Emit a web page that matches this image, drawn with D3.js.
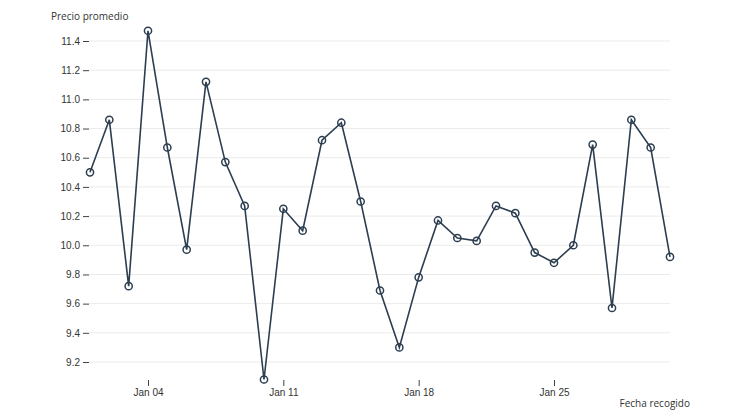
<!DOCTYPE html>
<html>
<head>
<meta charset="utf-8">
<script src="https://cdn.jsdelivr.net/npm/d3@7"></script>
<style>
  body { margin: 0; background: #fff; }
  svg { font-family: "Open Sans", "Noto Sans", sans-serif; }
</style>
</head>
<body>
<div id="app"></div>
<script>
const startDate = "2015-01-01";
const precios = [
  10.50, 10.86, 9.72, 11.47, 10.67, 9.97, 11.12, 10.57, 10.27, 9.08,
  10.25, 10.10, 10.72, 10.84, 10.30, 9.69, 9.30, 9.78, 10.17, 10.05,
  10.03, 10.27, 10.22, 9.95, 9.88, 10.00, 10.69, 9.57, 10.86, 10.67, 9.92
];
const yTicks = [9.2, 9.4, 9.6, 9.8, 10.0, 10.2, 10.4, 10.6, 10.8, 11.0, 11.2, 11.4];
const xTitle = "Fecha recogido";
const yTitle = "Precio promedio";

const width = 742, height = 420;
const parse = d3.timeParse("%Y-%m-%d");
const t0 = parse(startDate);
const data = precios.map((v, i) => ({ date: d3.timeDay.offset(t0, i), value: v }));

const svg = d3.select("#app").append("svg")
  .attr("width", width)
  .attr("height", height);

const x = d3.scaleTime()
  .domain(d3.extent(data, d => d.date))
  .range([90, 670]);

const y = d3.scaleLinear()
  .domain([9.2, 11.4])
  .range([362, 41]);

const textColor = "#333";
const lineColor = "#2c3e50";

// grid
svg.append("g")
  .selectAll("line")
  .data(yTicks)
  .join("line")
  .attr("x1", 89)
  .attr("x2", 670)
  .attr("y1", d => y(d))
  .attr("y2", d => y(d))
  .attr("stroke", "#ebebeb")
  .attr("stroke-width", 1);

// y axis
const yAxis = svg.append("g")
  .attr("transform", "translate(89,0)")
  .call(d3.axisLeft(y).tickValues(yTicks).tickFormat(d3.format(".1f")).tickSize(6).tickPadding(3));
yAxis.select(".domain").remove();
yAxis.selectAll(".tick line").attr("stroke", "#444");
yAxis.selectAll("text").attr("fill", textColor).style("font-size", "10px");

// x axis
const xAxis = svg.append("g")
  .attr("transform", "translate(0,380)")
  .call(d3.axisBottom(x).ticks(d3.timeSunday.every(1)).tickFormat(d3.timeFormat("%b %d")).tickSize(6).tickPadding(3));
xAxis.select(".domain").remove();
xAxis.selectAll(".tick line").attr("stroke", "#444");
xAxis.selectAll("text").attr("fill", textColor).style("font-size", "10px");

// line
const line = d3.line()
  .x(d => x(d.date))
  .y(d => y(d.value));

svg.append("path")
  .datum(data)
  .attr("fill", "none")
  .attr("stroke", lineColor)
  .attr("stroke-width", 1.6)
  .attr("d", line);

svg.append("g")
  .selectAll("circle")
  .data(data)
  .join("circle")
  .attr("cx", d => x(d.date))
  .attr("cy", d => y(d.value))
  .attr("r", 3.6)
  .attr("fill", "none")
  .attr("stroke", lineColor)
  .attr("stroke-width", 1.5);

// titles
svg.append("text")
  .attr("x", 51)
  .attr("y", 20)
  .attr("fill", textColor)
  .style("font-size", "10px")
  .text(yTitle);

svg.append("text")
  .attr("x", 690)
  .attr("y", 407)
  .attr("text-anchor", "end")
  .attr("fill", textColor)
  .style("font-size", "10px")
  .text(xTitle);
</script>
</body>
</html>
